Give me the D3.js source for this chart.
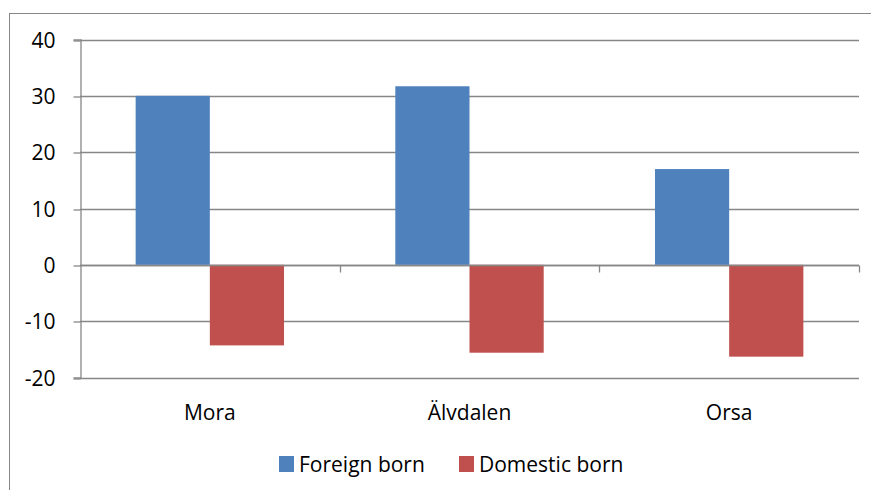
<!DOCTYPE html>
<html><head><meta charset="utf-8">
<script src="https://cdn.jsdelivr.net/npm/d3@7"></script>
<style>
html,body{margin:0;padding:0;background:#fff;}
svg{display:block;font-family:"Open Sans","Noto Sans",sans-serif;}
</style></head>
<body>
<svg id="c" width="871" height="490"></svg>
<script>
const categories = ["Mora", "Älvdalen", "Orsa"];
const seriesNames = ["Foreign born", "Domestic born"];
const foreignBorn = [30, 31.7, 17];
const domesticBorn = [-14.3, -15.6, -16.3];
const yTicks = [-20, -10, 0, 10, 20, 30, 40];
const colors = ["#4F81BD", "#C0504D"];

(function(){
const FONT = "'Open Sans','Noto Sans',sans-serif";
const FS = 21;
const svg = d3.select("#c");
const pLeft = 80, pRight = 859, pTop = 39.5, pBottom = 377.5;

// outer chart border
svg.append("rect").attr("x", 9.5).attr("y", 13.5).attr("width", 900).attr("height", 600)
  .attr("fill", "none").attr("stroke", "#878787").attr("stroke-width", 1);

const x = d3.scaleBand().domain(categories).range([pLeft, pRight]).paddingInner(0).paddingOuter(0);
const y = d3.scaleLinear().domain([-20, 40]).range([pBottom, pTop]);
const inner = d3.scaleBand().domain(seriesNames).range([0, x.bandwidth()])
  .paddingInner(0).paddingOuter(0.75);

// gridlines
svg.append("g").selectAll("line").data(yTicks).join("line")
  .attr("x1", pLeft).attr("x2", pRight)
  .attr("y1", d => Math.round(y(d)) + 0.5).attr("y2", d => Math.round(y(d)) + 0.5)
  .attr("stroke", "#878787").attr("stroke-width", 1.3);

// y axis
const yAxis = svg.append("g").attr("transform", `translate(${pLeft + 0.5},0)`)
  .call(d3.axisLeft(y).tickValues(yTicks).tickSize(7).tickPadding(18)
    .tickFormat(d => String(d)));
yAxis.select(".domain").attr("stroke", "#878787").attr("stroke-width", 1.3);
yAxis.selectAll(".tick line").attr("stroke", "#878787").attr("stroke-width", 1.3)
  .attr("transform", d => `translate(0,${Math.round(y(d)) + 0.5 - y(d)})`);
yAxis.selectAll(".tick text").attr("font-size", FS).attr("fill", "#000")
  .attr("font-family", FONT).attr("dy", "0.36em");

// bars
const data = categories.map((c, i) => ({cat: c, vals: [foreignBorn[i], domesticBorn[i]]}));
const g = svg.append("g");
data.forEach(d => {
  d.vals.forEach((v, j) => {
    g.append("rect")
      .attr("x", x(d.cat) + inner(seriesNames[j]))
      .attr("width", inner.bandwidth())
      .attr("y", y(Math.max(0, v)))
      .attr("height", Math.abs(y(v) - y(0)))
      .attr("fill", colors[j]);
  });
});

// x axis at zero
const y0 = Math.round(y(0)) + 0.5;
svg.append("line").attr("x1", pLeft).attr("x2", pRight).attr("y1", y0).attr("y2", y0)
  .attr("stroke", "#878787").attr("stroke-width", 1.3);
const xt = categories.map(c => x(c) + x.bandwidth());
svg.append("g").selectAll("line").data(xt).join("line")
  .attr("x1", d => Math.round(d) + 0.5).attr("x2", d => Math.round(d) + 0.5)
  .attr("y1", y0).attr("y2", y0 + 7)
  .attr("stroke", "#878787").attr("stroke-width", 1.3);

// category labels
svg.append("g").selectAll("text").data(categories).join("text")
  .attr("x", d => x(d) + x.bandwidth() / 2).attr("y", 420)
  .attr("text-anchor", "middle").attr("font-size", FS).attr("font-family", FONT)
  .attr("fill", "#000").text(d => d);

// legend
const legendX = [279, 459];
const lg = svg.append("g");
seriesNames.forEach((s, i) => {
  lg.append("rect").attr("x", legendX[i]).attr("y", 456).attr("width", 15).attr("height", 16)
    .attr("fill", colors[i]);
  lg.append("text").attr("x", legendX[i] + 20).attr("y", 472).attr("font-size", FS)
    .attr("font-family", FONT).attr("fill", "#000").text(s);
});
})();
</script>
</body></html>
